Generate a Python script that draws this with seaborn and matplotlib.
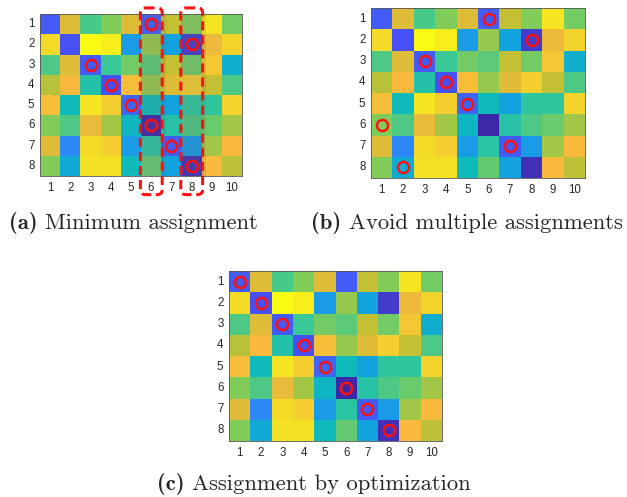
import numpy as np
import pandas as pd
import matplotlib.pyplot as plt
import seaborn as sns
from matplotlib.colors import LinearSegmentedColormap
from matplotlib.patches import FancyBboxPatch, Rectangle

sns.set_style("white")

# cost matrix, 8 rows x 10 columns (0 = low, 1 = high)
cost = [
    [0.12, 0.75, 0.52, 0.60, 0.75, 0.12, 0.70, 0.60, 0.93, 0.58],
    [0.90, 0.10, 1.00, 0.96, 0.27, 0.63, 0.30, 0.05, 0.78, 0.88],
    [0.53, 0.75, 0.12, 0.50, 0.58, 0.55, 0.70, 0.58, 0.84, 0.35],
    [0.68, 0.80, 0.45, 0.10, 0.82, 0.63, 0.75, 0.86, 0.70, 0.53],
    [0.82, 0.40, 0.93, 0.86, 0.14, 0.40, 0.30, 0.48, 0.48, 0.88],
    [0.60, 0.53, 0.77, 0.65, 0.38, 0.00, 0.46, 0.53, 0.57, 0.65],
    [0.75, 0.20, 0.90, 0.86, 0.27, 0.47, 0.12, 0.27, 0.65, 0.80],
    [0.60, 0.33, 0.92, 0.92, 0.40, 0.56, 0.30, 0.02, 0.80, 0.69],
]
rows = [1, 2, 3, 4, 5, 6, 7, 8]
cols = [1, 2, 3, 4, 5, 6, 7, 8, 9, 10]

# chosen column for each row in the three panels
assign_a = [6, 8, 3, 4, 5, 6, 7, 8]
assign_b = [6, 8, 3, 4, 5, 1, 7, 2]
assign_c = [1, 2, 3, 4, 5, 6, 7, 8]
clash_cols = [6, 8]

captions = ["(a)", "(b)", "(c)"]
caption_text = ["Minimum assignment", "Avoid multiple assignments",
                "Assignment by optimization"]

parula = LinearSegmentedColormap.from_list("parula", [
    (0.2422, 0.1504, 0.6603), (0.2810, 0.3228, 0.9579), (0.1786, 0.5289, 0.9682),
    (0.0689, 0.6399, 0.8702), (0.0590, 0.7277, 0.7331), (0.2161, 0.7843, 0.5923),
    (0.5044, 0.7993, 0.3480), (0.7647, 0.7529, 0.2016), (0.9722, 0.7243, 0.2373),
    (0.9558, 0.8550, 0.1594), (0.9769, 0.9839, 0.0805)])

df = pd.DataFrame(cost, index=rows, columns=cols)

fig = plt.figure(figsize=(6.27, 4.97), dpi=100)
W, H = 627, 497
boxes = [(40, 14, 202, 162), (371, 8, 214, 170), (229, 271, 213, 170)]
axes = [fig.add_axes([x / W, 1 - (y + h) / H, w / W, h / H]) for x, y, w, h in boxes]

for ax, assign in zip(axes, [assign_a, assign_b, assign_c]):
    sns.heatmap(df, ax=ax, cmap=parula, vmin=0, vmax=1, cbar=False)
    ax.set_yticklabels(rows, rotation=0)
    ax.set_xticklabels(cols, rotation=0)
    ax.tick_params(direction="in", length=2, width=0.5, color="#444444",
                   labelsize=8.3, pad=4, top=True, right=True, bottom=True, left=True)
    for lab in ax.get_xticklabels() + ax.get_yticklabels():
        lab.set_family("Liberation Sans")
    for s in ax.spines.values():
        s.set_visible(True)
        s.set_color("#555555")
        s.set_linewidth(0.6)
    ax.plot(np.array(assign) - 0.5, np.array(rows) - 0.5, "o", ms=8,
            mfc="none", mec="#ff1010", mew=1.8)

ax = axes[0]
for c in clash_cols:
    ax.add_patch(Rectangle((c - 1, 0), 1, 8, color="#707070", alpha=0.16, lw=0))
    ax.add_patch(Rectangle((c + 0.04, 0), 0.18, 8, color="#505050", alpha=0.12, lw=0))
    ax.add_patch(FancyBboxPatch((c - 1.03, -0.3), 1.08, 9.22,
                                boxstyle="round,pad=0,rounding_size=0.25",
                                fill=False, ec="#ff1010", lw=2.2, ls=(0, (3, 1.6)),
                                clip_on=False))

# captions: bold label followed by roman text, centred as one line
pos = [(133, 223), (467, 223), (314, 484)]
fig.canvas.draw()
r = fig.canvas.get_renderer()
for (x, y), lab, txt in zip(pos, captions, caption_text):
    t1 = fig.text(0, 1 - y / H, lab + " ", va="center", fontsize=16.3, family="cmb10")
    t2 = fig.text(0, 1 - y / H, txt, va="center", fontsize=16.3, family="cmr10")
    w1 = t1.get_window_extent(r).width
    w2 = t2.get_window_extent(r).width
    x0 = x - (w1 + w2) / 2
    t1.set_x(x0 / W)
    t2.set_x((x0 + w1) / W)

fig.savefig("out.png", dpi=100)
